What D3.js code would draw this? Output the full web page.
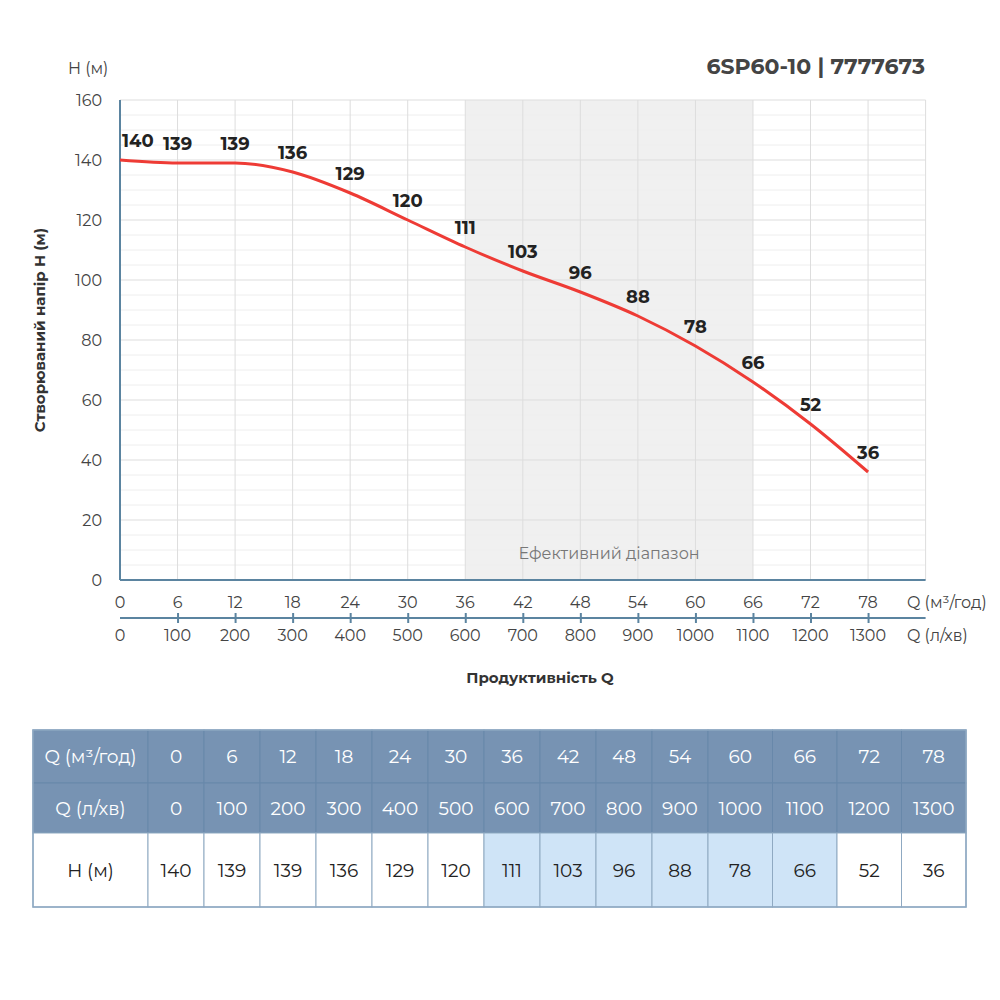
<!DOCTYPE html>
<html>
<head>
<meta charset="utf-8">
<script src="https://cdn.jsdelivr.net/npm/d3@7"></script>
<style>
  body { margin: 0; background: #fff; }
  svg text { font-family: Montserrat, "Open Sans", sans-serif; }
</style>
</head>
<body>
<svg id="chart" width="1000" height="1000"></svg>
<script>
// pump curve 6SP60-10
const qM3 = [0, 6, 12, 18, 24, 30, 36, 42, 48, 54, 60, 66, 72, 78];
const qLmin = [0, 100, 200, 300, 400, 500, 600, 700, 800, 900, 1000, 1100, 1200, 1300];
const head = [140, 139, 139, 136, 129, 120, 111, 103, 96, 88, 78, 66, 52, 36];
const effRange = [36, 66];
const yTicks = [0, 20, 40, 60, 80, 100, 120, 140, 160];

const svg = d3.select('#chart');
const axisCol = '#5b84a0';
const textCol = '#444';

const x = d3.scaleLinear().domain([0, 84]).range([120, 925.6]);
const y = d3.scaleLinear().domain([0, 160]).range([580, 100]);

// efficient range band
svg.append('rect')
  .attr('x', x(effRange[0])).attr('y', y(160))
  .attr('width', x(effRange[1]) - x(effRange[0])).attr('height', y(0) - y(160))
  .attr('fill', '#f0f0f0');

// minor grid (every 5)
svg.append('g').selectAll('line').data(d3.range(5, 161, 5).filter(v => v % 20 !== 0)).join('line')
  .attr('x1', x(0)).attr('x2', x(84)).attr('y1', d => y(d)).attr('y2', d => y(d))
  .attr('stroke', '#eeeeee').attr('stroke-width', 1);
// major grid
svg.append('g').selectAll('line').data(yTicks.slice(1)).join('line')
  .attr('x1', x(0)).attr('x2', x(84)).attr('y1', d => y(d)).attr('y2', d => y(d))
  .attr('stroke', '#dddddd').attr('stroke-width', 1);
svg.append('g').selectAll('line').data(qM3.slice(1).concat([84])).join('line')
  .attr('x1', d => x(d)).attr('x2', d => x(d)).attr('y1', y(0)).attr('y2', y(160))
  .attr('stroke', '#dddddd').attr('stroke-width', 1);

svg.append('text').attr('x', x(51)).attr('y', 559).attr('text-anchor', 'middle')
  .style('font-size', '16px').style('fill', '#777').text('Ефективний діапазон');

// axes lines
svg.append('line').attr('x1', x(0)).attr('x2', x(0)).attr('y1', y(160)).attr('y2', y(0))
  .attr('stroke', axisCol).attr('stroke-width', 2);
svg.append('line').attr('x1', x(0)).attr('x2', x(84)).attr('y1', y(0)).attr('y2', y(0))
  .attr('stroke', axisCol).attr('stroke-width', 2);

// y ticks
svg.append('g').selectAll('text').data(yTicks).join('text')
  .attr('x', 102).attr('y', d => y(d) + 5.5).attr('text-anchor', 'end')
  .style('font-size', '16px').style('fill', textCol).text(d => d);

// x ticks (m3/h)
svg.append('g').selectAll('text').data(qM3).join('text')
  .attr('x', d => x(d)).attr('y', 608).attr('text-anchor', 'middle')
  .style('font-size', '16px').style('fill', textCol).text(d => d);
svg.append('text').attr('x', 907).attr('y', 608).style('font-size', '16px').style('fill', textCol).text('Q (м³/год)');

// second axis (l/min)
const x2 = d3.scaleLinear().domain([0, 1400]).range([120, 925.6]);
const ax2 = svg.append('g').attr('transform', 'translate(0,618)')
  .call(d3.axisBottom(x2).tickValues(qLmin.slice(1)).tickSize(5).tickFormat(''));
ax2.select('.domain').attr('d', `M${x2(0)},0H${x2(1400)}`).attr('stroke', axisCol).attr('stroke-width', 2);
ax2.selectAll('.tick line').attr('stroke', axisCol).attr('stroke-width', 2).attr('y1', -5);
svg.append('g').selectAll('text').data(qLmin).join('text')
  .attr('x', d => x2(d)).attr('y', 641).attr('text-anchor', 'middle')
  .style('font-size', '16px').style('fill', textCol).text(d => d);
svg.append('text').attr('x', 907).attr('y', 641).style('font-size', '16px').style('fill', textCol).text('Q (л/хв)');

// titles
svg.append('text').attr('x', 68).attr('y', 74).style('font-size', '16px').style('fill', textCol).text('H (м)');
svg.append('text').attr('x', 925).attr('y', 74).attr('text-anchor', 'end')
  .style('font-size', '22px').style('font-weight', 700).style('fill', textCol).text('6SP60-10 | 7777673');
svg.append('text').attr('transform', 'translate(45,330) rotate(-90)').attr('text-anchor', 'middle')
  .style('font-size', '15px').style('font-weight', 700).style('fill', '#333').text('Створюваний напір H (м)');
svg.append('text').attr('x', 540).attr('y', 683).attr('text-anchor', 'middle')
  .style('font-size', '15px').style('font-weight', 700).style('fill', '#333').text('Продуктивність Q');

// curve
const pts = qM3.map((q, i) => ({q, h: head[i]}));
svg.append('path').datum(pts)
  .attr('d', d3.line().x(d => x(d.q)).y(d => y(d.h)).curve(d3.curveMonotoneX))
  .attr('fill', 'none').attr('stroke', '#ee3b35').attr('stroke-width', 3);

svg.append('g').selectAll('text').data(pts).join('text')
  .attr('x', (d, i) => i === 0 ? x(d.q) + 2 : x(d.q))
  .attr('y', d => y(d.h) - 13)
  .attr('text-anchor', (d, i) => i === 0 ? 'start' : 'middle')
  .style('font-size', '18px').style('font-weight', 700).style('fill', '#222').text(d => d.h);

// table
const tLeft = 33, tTop = 730;
const rowH = [53, 50, 74];
const firstW = 115;
const colW = qLmin.map(v => String(v).length >= 4 ? 64.5 : 56);
const colX = [tLeft + firstW];
colW.forEach((w, i) => colX.push(colX[i] + w));
const rows = [
  {label: 'Q (м³/год)', vals: qM3, head: true},
  {label: 'Q (л/хв)', vals: qLmin, head: true},
  {label: 'H (м)', vals: head, head: false}
];
let ry = tTop;
const tbl = svg.append('g');
rows.forEach((r, ri) => {
  const h = rowH[ri];
  const cells = [{x: tLeft, w: firstW, v: r.label, eff: false}]
    .concat(r.vals.map((v, i) => ({x: colX[i], w: colW[i], v, eff: qM3[i] >= effRange[0] && qM3[i] <= effRange[1]})));
  const g = tbl.append('g');
  g.selectAll('rect').data(cells).join('rect')
    .attr('x', d => d.x).attr('y', ry).attr('width', d => d.w).attr('height', h)
    .attr('fill', d => r.head ? '#7793b3' : (d.eff ? '#cfe4f7' : '#fff'))
    .attr('stroke', r.head ? '#6888aa' : '#8fa9c2').attr('stroke-width', 1);
  g.selectAll('text').data(cells).join('text')
    .attr('x', d => d.x + d.w / 2).attr('y', ry + h / 2 + 6.5).attr('text-anchor', 'middle')
    .style('font-size', '18.5px').style('fill', r.head ? '#fff' : '#222').text(d => d.v);
  ry += h;
});
tbl.append('rect').attr('x', tLeft).attr('y', tTop).attr('width', colX[colX.length - 1] - tLeft)
  .attr('height', d3.sum(rowH)).attr('fill', 'none').attr('stroke', '#8fa9c2').attr('stroke-width', 1.5);
</script>
</body>
</html>
